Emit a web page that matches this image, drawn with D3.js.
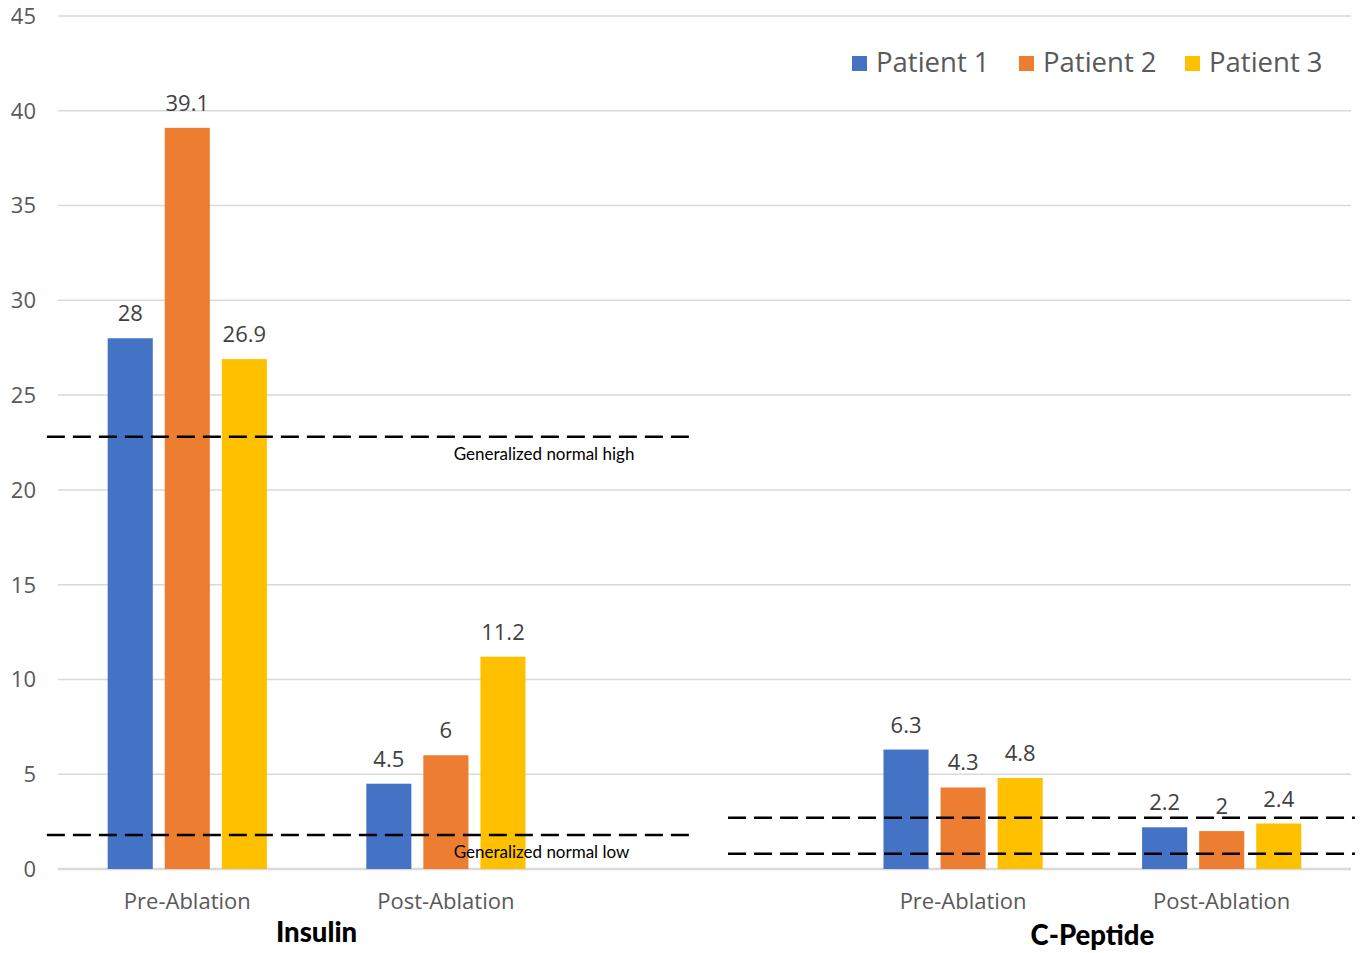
<!DOCTYPE html>
<html>
<head>
<meta charset="utf-8">
<script src="https://cdn.jsdelivr.net/npm/d3@7"></script>
<style>
  html, body { margin: 0; padding: 0; background: #fff; }
  svg { display: block; }
</style>
</head>
<body>
<svg id="chart" width="1361" height="953"></svg>
<script>
// Category slots along the x axis (one empty slot separates the two groups)
const slots = ["ins-pre", "ins-post", "gap", "cp-pre", "cp-post"];
const slotLabels = ["Pre-Ablation", "Post-Ablation", "", "Pre-Ablation", "Post-Ablation"];
const patients = ["Patient 1", "Patient 2", "Patient 3"];
const colors = ["#4472C4", "#ED7D31", "#FFC000"];

// Values per patient, in slot order (null = no bar)
const patient1 = [28, 4.5, null, 6.3, 2.2];
const patient2 = [39.1, 6, null, 4.3, 2];
const patient3 = [26.9, 11.2, null, 4.8, 2.4];

const yTicks = [0, 5, 10, 15, 20, 25, 30, 35, 40, 45];

// Group titles: label and the slots they sit under
const groups = [
  { name: "Insulin", from: 0, to: 1 },
  { name: "C-Peptide", from: 3, to: 4 }
];

// Reference ranges: value and span in slot units
const refLines = [
  { value: 22.8, from: -0.043, to: 2.452, label: "Generalized normal high" },
  { value: 1.8, from: -0.043, to: 2.452, label: "Generalized normal low" },
  { value: 2.7, from: 2.591, to: 5.015, label: "" },
  { value: 0.8, from: 2.591, to: 5.015, label: "" }
];

(function () {
const svg = d3.select("#chart");
const plotL = 58, plotR = 1351, plotT = 16, plotB = 869;

const x0 = d3.scaleBand().domain(slots).range([plotL, plotR]).padding(0);
const slotUnit = d3.scaleLinear().domain([0, slots.length]).range([plotL, plotR]);
const groupW = x0.bandwidth() * 0.662;
const x1 = d3.scaleBand().domain(patients)
  .range([(x0.bandwidth() - groupW) / 2, (x0.bandwidth() + groupW) / 2])
  .paddingInner(0.21).paddingOuter(0.105);
const y = d3.scaleLinear().domain([0, 45]).range([plotB, plotT]);

const tickFont = "'Open Sans', 'Noto Sans', sans-serif";
const labelFont = "Lato, 'Noto Sans', sans-serif";

// Gridlines
svg.append("g").selectAll("line").data(yTicks).join("line")
  .attr("x1", plotL).attr("x2", plotR)
  .attr("y1", d => y(d)).attr("y2", d => y(d))
  .attr("stroke", "#d9d9d9")
  .attr("stroke-width", d => d === 0 ? 2.5 : 1.5);

// Y axis labels
svg.append("g").selectAll("text").data(yTicks).join("text")
  .attr("x", 36).attr("y", d => y(d))
  .attr("dy", "0.36em")
  .attr("text-anchor", "end")
  .attr("font-family", tickFont).attr("font-size", 22)
  .attr("fill", "#595959")
  .text(d => d);

// Bars
const series = [patient1, patient2, patient3];
const barData = [];
series.forEach((vals, pi) => vals.forEach((v, si) => {
  if (v !== null) barData.push({ slot: slots[si], patient: patients[pi], value: v, color: colors[pi] });
}));

svg.append("g").selectAll("rect").data(barData).join("rect")
  .attr("x", d => x0(d.slot) + x1(d.patient))
  .attr("y", d => y(d.value))
  .attr("width", x1.bandwidth())
  .attr("height", d => y(0) - y(d.value))
  .attr("fill", d => d.color);

// Value labels
svg.append("g").selectAll("text").data(barData).join("text")
  .attr("x", d => x0(d.slot) + x1(d.patient) + x1.bandwidth() / 2)
  .attr("y", d => y(d.value) - 17)
  .attr("text-anchor", "middle")
  .attr("font-family", tickFont).attr("font-size", 22)
  .attr("fill", "#404040")
  .text(d => d.value);

// Reference lines
svg.append("g").selectAll("line").data(refLines).join("line")
  .attr("x1", d => slotUnit(d.from)).attr("x2", d => slotUnit(d.to))
  .attr("y1", d => y(d.value)).attr("y2", d => y(d.value))
  .attr("stroke", "#000")
  .attr("stroke-width", 2.5)
  .attr("stroke-dasharray", "18,8");

svg.append("g").selectAll("text").data(refLines.filter(d => d.label)).join("text")
  .attr("x", slotUnit(1.53))
  .attr("y", d => y(d.value) + 23)
  .attr("font-family", labelFont).attr("font-size", 17)
  .attr("fill", "#000")
  .text(d => d.label);

// Category labels
svg.append("g").selectAll("text").data(slots.map((s, i) => ({ s, label: slotLabels[i] })).filter(d => d.label)).join("text")
  .attr("x", d => x0(d.s) + x0.bandwidth() / 2)
  .attr("y", 909)
  .attr("text-anchor", "middle")
  .attr("font-family", tickFont).attr("font-size", 22)
  .attr("fill", "#595959")
  .text(d => d.label);

// Group titles
svg.append("g").selectAll("text").data(groups).join("text")
  .attr("x", d => (x0(slots[d.from]) + x0(slots[d.to]) + x0.bandwidth()) / 2)
  .attr("y", (d, i) => i === 0 ? 942 : 945)
  .attr("text-anchor", "middle")
  .attr("font-family", labelFont).attr("font-size", 27.5)
  .attr("font-weight", 900)
  .attr("fill", "#000")
  .text(d => d.name);

// Legend
const legendX = [852, 1019, 1185];
const legend = svg.append("g").selectAll("g").data(patients).join("g")
  .attr("transform", (d, i) => `translate(${legendX[i]},56)`);
legend.append("rect").attr("width", 15).attr("height", 15)
  .attr("fill", (d, i) => colors[i]);
legend.append("text").attr("x", 24).attr("y", 16)
  .attr("font-family", tickFont).attr("font-size", 27.5)
  .attr("fill", "#595959")
  .text(d => d);
})();
</script>
</body>
</html>
